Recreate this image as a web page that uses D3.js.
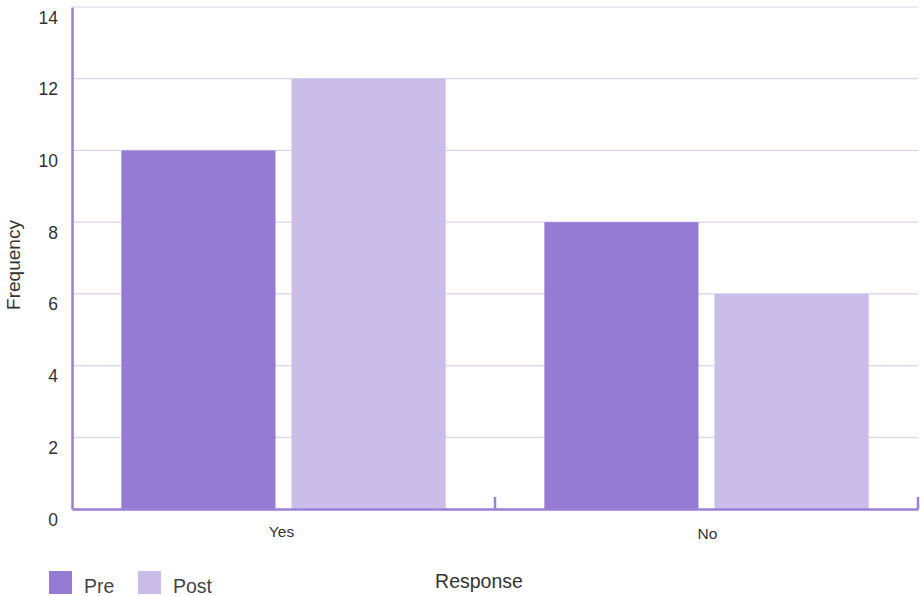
<!DOCTYPE html>
<html>
<head>
<meta charset="utf-8">
<script src="https://cdn.jsdelivr.net/npm/d3@7"></script>
<style>
  html, body { margin: 0; padding: 0; background: #fff; }
  svg { display: block; font-family: "Liberation Sans", Arial, sans-serif; }
</style>
</head>
<body>
<svg id="chart" width="922" height="596"></svg>
<script>
// Survey responses before and after
const categories = ["Yes", "No"];
const seriesNames = ["Pre", "Post"];
const preValues = [10, 8];
const postValues = [12, 6];
const yTicks = [0, 2, 4, 6, 8, 10, 12, 14];

const colors = { Pre: "#967bd5", Post: "#cbbde9" };
const axisColor = "#9b80d6";
const gridColor = "#dcd2f1";
const textColor = "#333";

const svg = d3.select("#chart");
const plot = { left: 72, right: 918, top: 7, bottom: 509 };

const x = d3.scaleBand().domain(categories).range([plot.left, plot.right]).paddingInner(0).paddingOuter(0);
const xs = d3.scaleBand().domain(seriesNames).range([0, x.bandwidth()]).paddingInner(0.094).paddingOuter(0.29);
const y = d3.scaleLinear().domain([0, 14]).range([plot.bottom, plot.top]);

const rows = categories.map((c, i) => ({ cat: c, Pre: preValues[i], Post: postValues[i] }));

// gridlines
svg.append("g").selectAll("line").data(yTicks.filter(t => t > 0)).join("line")
  .attr("x1", plot.left).attr("x2", plot.right)
  .attr("y1", d => y(d)).attr("y2", d => y(d))
  .attr("stroke", gridColor).attr("stroke-width", 1.2);

// bars
svg.append("g").selectAll("g").data(rows).join("g")
  .attr("transform", d => `translate(${x(d.cat)},0)`)
  .selectAll("rect").data(d => seriesNames.map(s => ({ s, v: d[s] }))).join("rect")
  .attr("x", d => xs(d.s)).attr("width", xs.bandwidth())
  .attr("y", d => y(d.v)).attr("height", d => y(0) - y(d.v))
  .attr("fill", d => colors[d.s]);

// y axis
const yAxis = svg.append("g").attr("transform", `translate(${plot.left},0)`)
  .call(d3.axisLeft(y).tickValues(yTicks).tickSize(0).tickPadding(14));
yAxis.select(".domain").attr("stroke", axisColor).attr("stroke-width", 2.5);
yAxis.selectAll("text").attr("dy", "0.92em").attr("fill", textColor)
  .style("font-size", "17.5px");

// x axis
const xAxis = svg.append("g").attr("transform", `translate(0,${plot.bottom})`)
  .call(d3.axisBottom(x).tickSize(0).tickPadding(17));
xAxis.select(".domain").attr("stroke", axisColor).attr("stroke-width", 2.5);
xAxis.selectAll("text").attr("fill", textColor).style("font-size", "15.5px");
xAxis.selectAll(".tick").attr("transform", (d, i) => `translate(${x(d) + x.bandwidth() / 2 - (i === 0 ? 2 : -1)},${i === 0 ? 0 : 2})`);
// band boundary ticks
svg.append("g").selectAll("line").data(categories).join("line")
  .attr("x1", d => x(d) + x.bandwidth()).attr("x2", d => x(d) + x.bandwidth())
  .attr("y1", plot.bottom).attr("y2", plot.bottom - 12)
  .attr("stroke", axisColor).attr("stroke-width", 2.5);

// axis titles
svg.append("text").attr("x", 479).attr("y", 588).attr("text-anchor", "middle")
  .attr("fill", textColor).style("font-size", "19.5px").text("Response");
svg.append("text").attr("transform", "translate(20,265) rotate(-90)").attr("text-anchor", "middle")
  .attr("fill", textColor).style("font-size", "19px").text("Frequency");

// legend
const legend = svg.append("g").selectAll("g").data(seriesNames).join("g")
  .attr("transform", (d, i) => `translate(${49 + i * 89},571)`);
legend.append("rect").attr("width", 23).attr("height", 23).attr("fill", d => colors[d]);
legend.append("text").attr("x", 35).attr("y", 22).attr("fill", "#444")
  .style("font-size", "19.5px").text(d => d);
</script>
</body>
</html>
